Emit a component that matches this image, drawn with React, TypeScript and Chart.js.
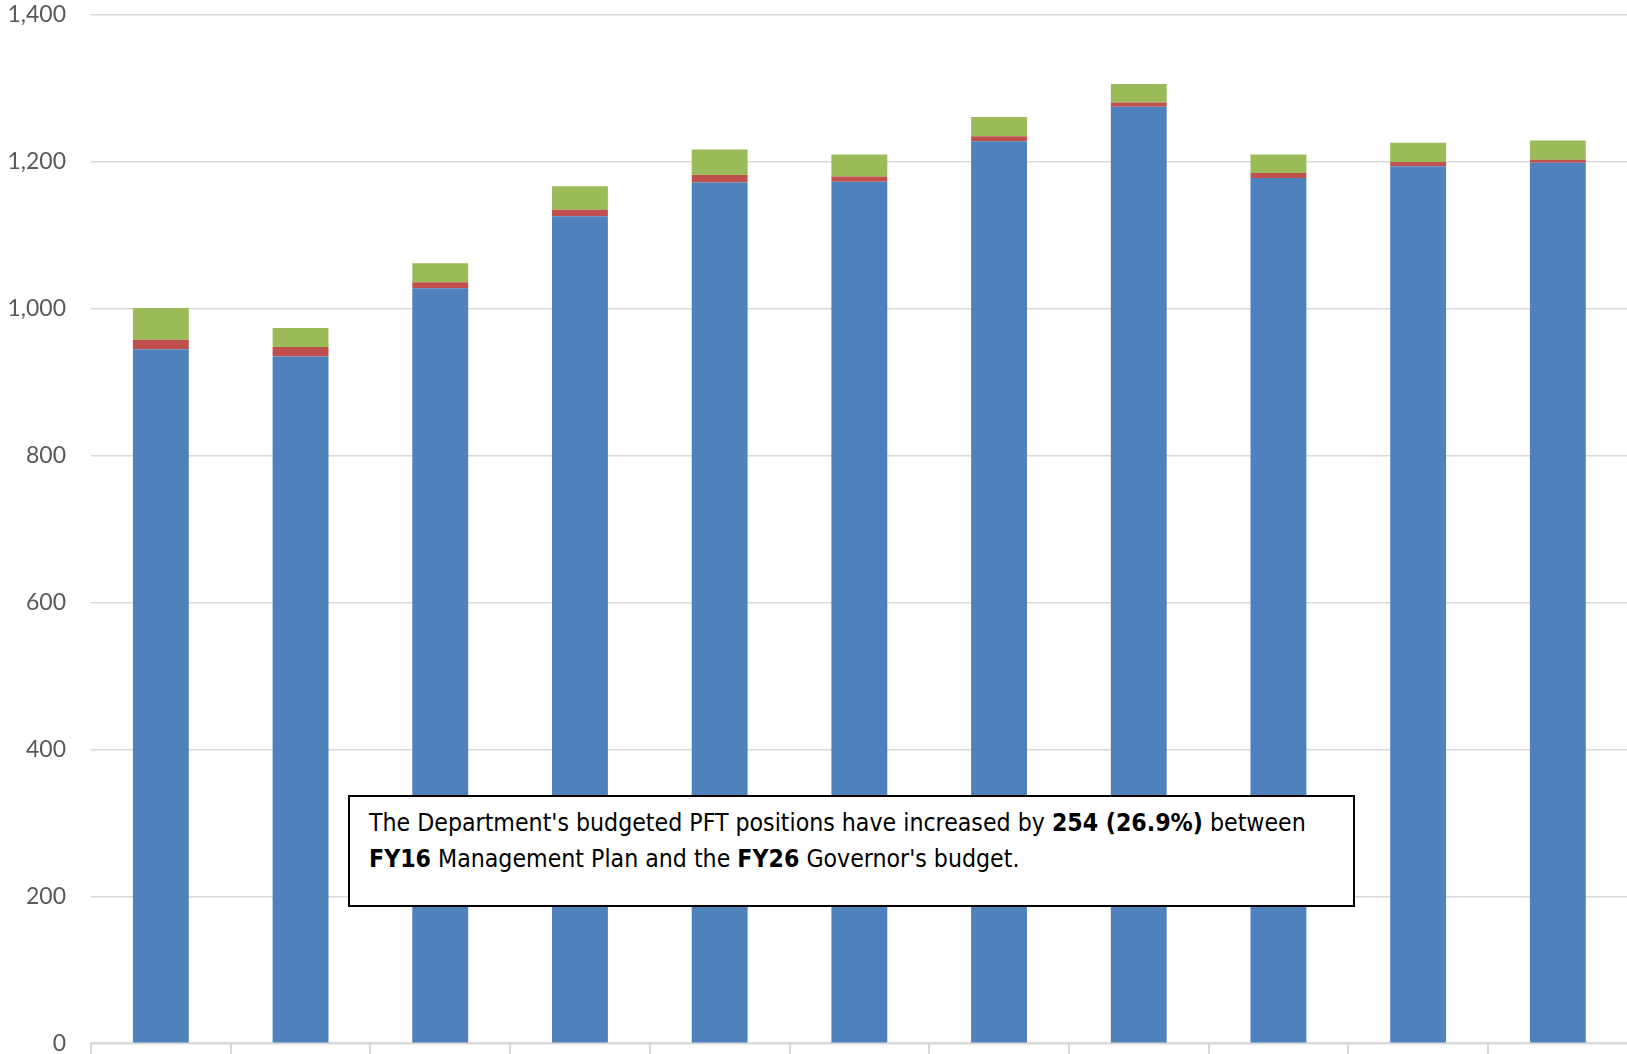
import React, { useEffect, useLayoutEffect, useRef, useState } from 'react';
import { Chart, registerables } from 'chart.js';

Chart.register(...registerables);

const categories = ['FY16', 'FY17', 'FY18', 'FY19', 'FY20', 'FY21', 'FY22', 'FY23', 'FY24', 'FY25', 'FY26'];
const permanentFullTime = [945, 935, 1028, 1126, 1172, 1173, 1228, 1275, 1178, 1194, 1199];
const permanentPartTime = [13, 13, 8, 9, 10, 7, 7, 6, 7, 6, 4];
const nonPermanent = [43, 26, 26, 32, 35, 30, 26, 25, 25, 26, 26];
const yTickValues = [0, 200, 400, 600, 800, 1000, 1200, 1400];

const seriesNames = ['PFT', 'PPT', 'Non-Perm'];
const seriesColors = ['#4F81BD', '#C0504D', '#9BBB59'];

const CANVAS_W = 1640;
const CANVAS_H = 1080;
const PLOT_LEFT = 91;
const PLOT_RIGHT = 1627.7;
const PLOT_TOP = 15;
const PLOT_BOTTOM = 1043.3;

const TARGET_LINE_W = 937;
const ANNOT_FONT = '"Liberation Sans Narrow", "DejaVu Sans Condensed", Lato, sans-serif';

export default function App() {
  const canvasRef = useRef<HTMLCanvasElement>(null);
  const lineRef = useRef<HTMLSpanElement>(null);
  const [fontSize, setFontSize] = useState(26);

  useLayoutEffect(() => {
    document.body.style.margin = '0';
    if (lineRef.current) {
      const w = lineRef.current.getBoundingClientRect().width;
      if (w > 0 && Math.abs(w - TARGET_LINE_W) > 1) {
        setFontSize((f) => (f * TARGET_LINE_W) / w);
      }
    }
  }, [fontSize]);

  useEffect(() => {
    if (!canvasRef.current) return;
    const chart = new Chart(canvasRef.current, {
      type: 'bar',
      data: {
        labels: categories,
        datasets: [permanentFullTime, permanentPartTime, nonPermanent].map((d, i) => ({
          label: seriesNames[i],
          data: d,
          backgroundColor: seriesColors[i],
          borderWidth: 0,
          categoryPercentage: 1,
          barPercentage: 0.4,
        })),
      },
      options: {
        animation: false,
        responsive: false,
        maintainAspectRatio: false,
        layout: { padding: { top: PLOT_TOP, right: CANVAS_W - PLOT_RIGHT, left: 0, bottom: 0 } },
        plugins: { legend: { display: false }, tooltip: { enabled: false } },
        scales: {
          x: {
            stacked: true,
            grid: { offset: true, drawOnChartArea: false, color: '#d9d9d9', lineWidth: 2, tickLength: 20 },
            border: { color: '#d9d9d9', width: 2 },
            ticks: { display: false },
            afterFit: (s: any) => {
              s.height = CANVAS_H - PLOT_BOTTOM;
            },
          },
          y: {
            stacked: true,
            min: 0,
            max: 1400,
            afterBuildTicks: (s: any) => {
              s.ticks = yTickValues.map((v) => ({ value: v }));
            },
            ticks: {
              padding: 0,
              color: '#595959',
              font: { family: 'Lato', size: 23 },
              callback: (v: any) => Number(v).toLocaleString('en-US'),
            },
            grid: { color: '#d9d9d9', lineWidth: 1.5, drawTicks: true, tickLength: 25, tickColor: 'rgba(0,0,0,0)' },
            border: { display: false },
            afterFit: (s: any) => {
              s.width = PLOT_LEFT;
            },
          },
        },
      },
    });
    return () => chart.destroy();
  }, []);

  return (
    <div style={{ position: 'absolute', left: 0, top: 0, width: 1627, height: 1054, overflow: 'hidden', background: '#fff' }}>
      <canvas ref={canvasRef} width={CANVAS_W} height={CANVAS_H} style={{ position: 'absolute', left: 0, top: 0 }} />
      <div
        style={{
          position: 'absolute',
          left: 348,
          top: 795,
          width: 1007,
          height: 112,
          boxSizing: 'border-box',
          border: '2px solid #000',
          background: '#fff',
          paddingLeft: 19,
          paddingTop: 8,
          fontFamily: ANNOT_FONT,
          fontSize: fontSize,
          lineHeight: '35.5px',
          color: '#000',
          whiteSpace: 'nowrap',
        }}
      >
        <div>
          <span ref={lineRef}>
            The Department's budgeted PFT positions have increased by <b>254 (26.9%)</b> between
          </span>
        </div>
        <div>
          <b>FY16</b> Management Plan and the <b>FY26</b> Governor's budget.
        </div>
      </div>
    </div>
  );
}
